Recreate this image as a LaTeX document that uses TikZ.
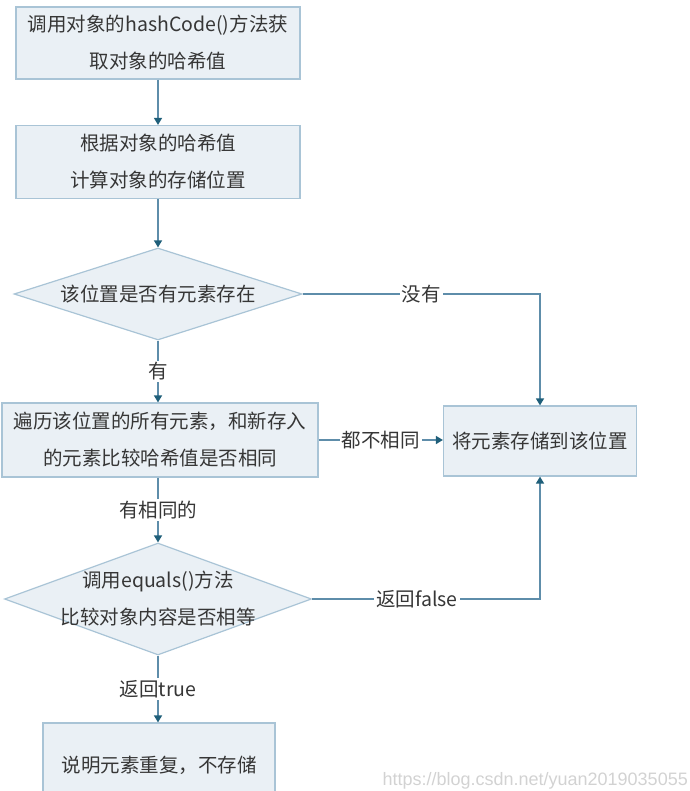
\documentclass[tikz,border=0pt]{standalone}
\usepackage{fontspec}
\setmainfont{Noto Sans CJK SC}
\newfontfamily\wmfont{Liberation Sans}
\usepackage{xcolor}
\usepackage{tikz}
\usetikzlibrary{shapes.geometric, arrows.meta, positioning}
\definecolor{boxfill}{HTML}{EAF0F5}
\definecolor{boxdraw}{HTML}{A9C4D6}
\definecolor{flowline}{HTML}{5E8DAA}
\definecolor{flowtip}{HTML}{1F5F7A}
\definecolor{txt}{HTML}{363636}

\begin{document}
\begin{tikzpicture}[x=1pt,y=-1pt,>={Triangle[length=7pt,width=8pt,color=flowtip]},
    font=\fontsize{19.5}{37}\selectfont,text=txt,
    etape/.style={draw=boxdraw,fill=boxfill,line width=1.2pt,align=center,inner sep=0pt},
    choix/.style={draw=boxdraw,fill=boxfill,line width=1.2pt,diamond,align=center,inner sep=0pt},
    fleche/.style={draw=flowline,line width=1.5pt},
    etiq/.style={fill=white,inner sep=2pt}]
            \useasboundingbox (0,0) rectangle (689,791);
            \clip (0,0) rectangle (689,791);

            % Les étapes et les tests
            \node[etape, minimum width=284pt, minimum height=72pt] (b1) at (158,43) {调用对象的hashCode()方法获\\取对象的哈希值};
            \node[etape, minimum width=284pt, minimum height=73pt] (b2) at (158,162) {根据对象的哈希值\\计算对象的存储位置};
            \node[choix, aspect=3.1, minimum width=288pt, minimum height=92pt] (d1) at (158,294) {该位置是否有元素存在};
            \node[etape, minimum width=316pt, minimum height=74pt] (b3) at (160,440) {遍历该位置的所有元素，和新存入\\的元素比较哈希值是否相同};
            \node[etape, minimum width=193pt, minimum height=70pt] (b4) at (540,441) {将元素存储到该位置};
            \node[choix, aspect=2.74, inner ysep=-20pt, minimum width=307pt, minimum height=112pt] (d2) at (158,599) {调用equals()方法\\比较对象内容是否相等};
            \node[etape, minimum width=232pt, minimum height=84pt] (b5) at (159,765) {说明元素重复，不存储};

            % Les flèches avec leurs étiquettes
            \draw[fleche, ->] (b1) -- (b2);
            \draw[fleche, ->] (b2) -- (d1);
            \draw[fleche, ->] (d1.east) -| (b4.north) node[pos=0.25, etiq] {没有};
            \draw[fleche, ->] (d1.south) -- (b3.north -| d1.south) node[midway, etiq] {有};
            \draw[fleche, ->] (b3.east) -- (b4.west |- b3.east) node[midway, etiq] {都不相同};
            \draw[fleche, ->] (b3.south -| d2.north) -- (d2.north) node[midway, etiq] {有相同的};
            \draw[fleche, ->] (d2.east) -| (b4.south) node[pos=0.23, etiq] {返回false};
            \draw[fleche, ->] (d2.south) -- (b5.north -| d2.south) node[midway, etiq] {返回true};

            % Filigrane
            \node[anchor=south east, inner sep=0pt, text=gray!35, font=\wmfont\fontsize{18}{20}\selectfont] (wm) at (688,789) {https://blog.csdn.net/yuan2019035055};
\end{tikzpicture}
\end{document}
